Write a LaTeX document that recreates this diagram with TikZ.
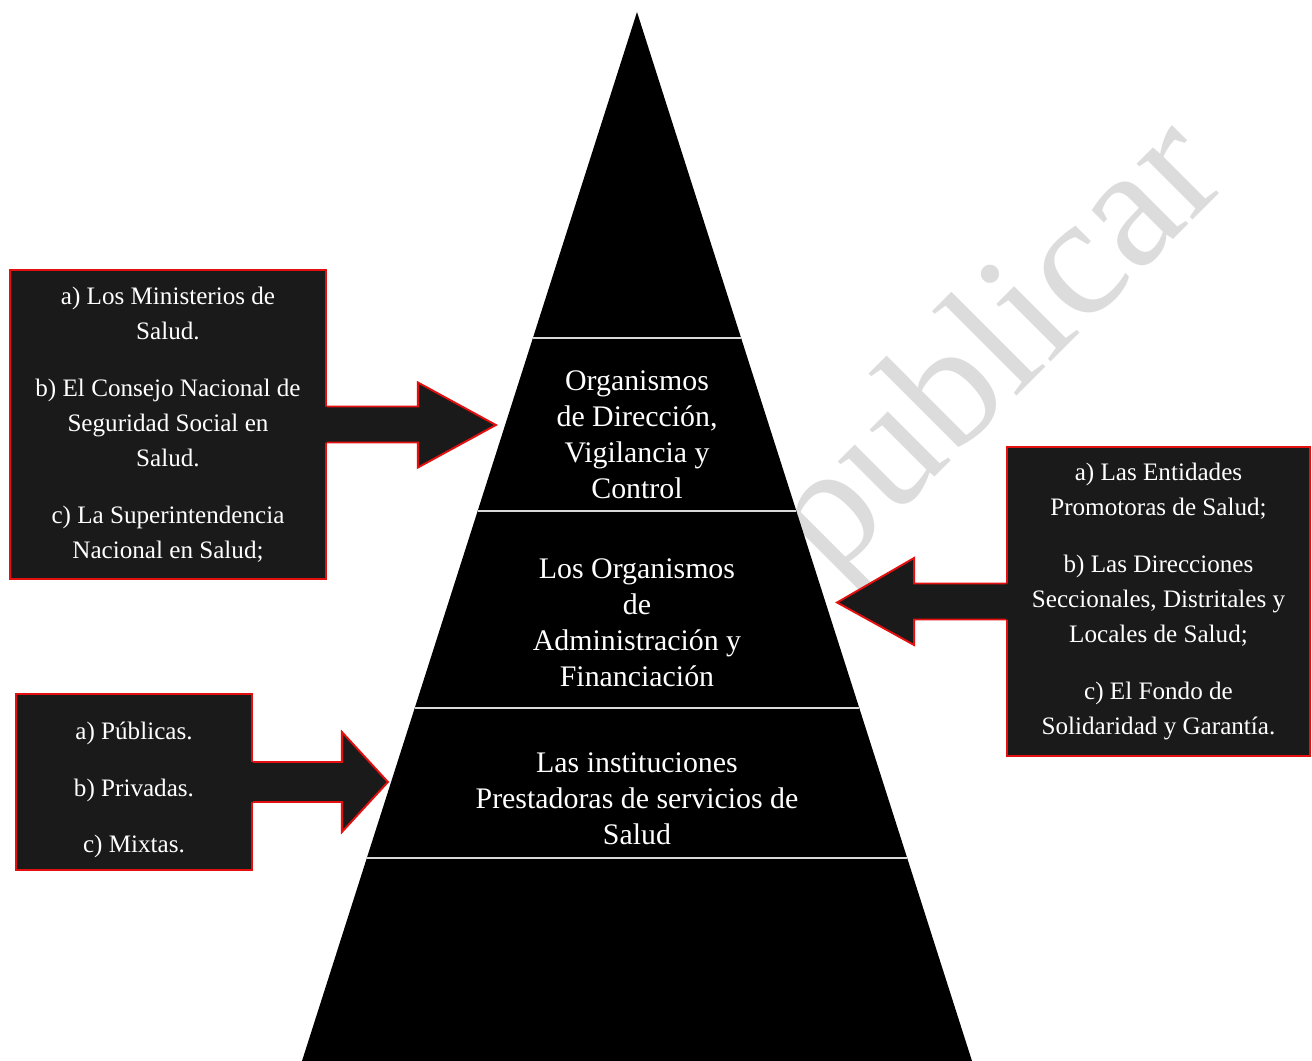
\documentclass[tikz,border=0pt]{standalone}
\usepackage{fontspec}
\setmainfont{Liberation Serif}
\usetikzlibrary{calc}

\definecolor{boxgray}{HTML}{1A1A1A}
\definecolor{boxred}{HTML}{E41010}
\definecolor{wmgray}{HTML}{DCDCDC}

\tikzset{
	listbox/.style={draw=boxred, fill=boxgray, line width=1.1pt, inner sep=0pt,
		align=center, text=white, font=\fontsize{14.3}{19.9}\selectfont},
	layer/.style={align=center, text=white, inner sep=0pt,
		font=\fontsize{17}{20.5}\selectfont},
	sep/.style={draw=white!85!black, line width=1.1pt},
	blockfill/.style={fill=boxgray},
	blockline/.style={draw=boxred, line width=1.1pt, line join=miter}
}

\begin{document}
\begin{tikzpicture}[x=0.02cm,y=-0.02cm]
	\useasboundingbox (0,0) rectangle (1312,1061);

	% watermark behind everything
	\node[text=wmgray, rotate=45, inner sep=0pt, font=\fontsize{98}{98}\selectfont] (wm) at (1002,352) {publicar};

	% corners of the pyramid
	\coordinate (top) at (637,12);
	\coordinate (bl) at (302,1061);
	\coordinate (br) at (972,1061);
	\fill[black] (top) -- (bl) -- (br) -- cycle;

	% white lines between the layers
	\foreach \t in {0.3108,0.4757,0.6635,0.8065}
		\draw[sep] ($(top)!\t!(bl)$) -- ($(top)!\t!(br)$);

	% texts of the layers
	\node[layer] (dir) at (637,435) {Organismos\\ de Dirección,\\ Vigilancia y\\ Control};
	\node[layer] (adm) at (637,623) {Los Organismos\\ de\\ Administración y\\ Financiación};
	\node[layer] (ips) at (637,799) {Las instituciones\\ Prestadoras de servicios de\\ Salud};

	% lists beside the pyramid
	\node[listbox, minimum width=6.32cm, minimum height=6.18cm] (dirlist) at (168,424.5) {
		a) Los Ministerios de\\ Salud.\\[12.5pt]
		b) El Consejo Nacional de\\ Seguridad Social en\\ Salud.\\[12.5pt]
		c) La Superintendencia\\ Nacional en Salud;};
	\node[listbox, minimum width=4.72cm, minimum height=3.52cm] (ipslist) at (134,782) {
		\rule{0pt}{19pt}a) Públicas.\\[12.5pt]
		b) Privadas.\\[12.5pt]
		c) Mixtas.};
	\node[listbox, minimum width=6.06cm, minimum height=6.18cm] (admlist) at (1158.5,601.5) {
		a) Las Entidades\\ Promotoras de Salud;\\[12.5pt]
		b) Las Direcciones\\ Seccionales, Distritales y\\ Locales de Salud;\\[12.5pt]
		c) El Fondo de\\ Solidaridad y Garantía.};

	% arrow dirlist -> dir
	\coordinate (A1) at ($(dirlist.east)+(169,0.5)$);
	\fill[blockfill] ($(dirlist.east)+(-2,-18)$) -- ($(dirlist.east)+(91,-18)$) -- ($(dirlist.east)+(91,-42)$)
		-- (A1) -- ($(dirlist.east)+(91,43)$) -- ($(dirlist.east)+(91,18)$) -- ($(dirlist.east)+(-2,18)$) -- cycle;
	\draw[blockline] ($(dirlist.east)+(0,-18)$) -- ($(dirlist.east)+(91,-18)$) -- ($(dirlist.east)+(91,-42)$)
		-- (A1) -- ($(dirlist.east)+(91,43)$) -- ($(dirlist.east)+(91,18)$) -- ($(dirlist.east)+(0,18)$);

	% arrow ipslist -> ips
	\coordinate (A2) at ($(ipslist.east)+(135,0)$);
	\fill[blockfill] ($(ipslist.east)+(-2,-20)$) -- ($(ipslist.east)+(89,-20)$) -- ($(ipslist.east)+(89,-50)$)
		-- (A2) -- ($(ipslist.east)+(89,50)$) -- ($(ipslist.east)+(89,20)$) -- ($(ipslist.east)+(-2,20)$) -- cycle;
	\draw[blockline] ($(ipslist.east)+(0,-20)$) -- ($(ipslist.east)+(89,-20)$) -- ($(ipslist.east)+(89,-50)$)
		-- (A2) -- ($(ipslist.east)+(89,50)$) -- ($(ipslist.east)+(89,20)$) -- ($(ipslist.east)+(0,20)$);

	% arrow admlist -> adm
	\coordinate (A3) at ($(admlist.west)+(-169,1)$);
	\fill[blockfill] ($(admlist.west)+(2,-18)$) -- ($(admlist.west)+(-92,-18)$) -- ($(admlist.west)+(-92,-43.5)$)
		-- (A3) -- ($(admlist.west)+(-92,43.5)$) -- ($(admlist.west)+(-92,18)$) -- ($(admlist.west)+(2,18)$) -- cycle;
	\draw[blockline] ($(admlist.west)+(0,-18)$) -- ($(admlist.west)+(-92,-18)$) -- ($(admlist.west)+(-92,-43.5)$)
		-- (A3) -- ($(admlist.west)+(-92,43.5)$) -- ($(admlist.west)+(-92,18)$) -- ($(admlist.west)+(0,18)$);

\end{tikzpicture}
\end{document}
